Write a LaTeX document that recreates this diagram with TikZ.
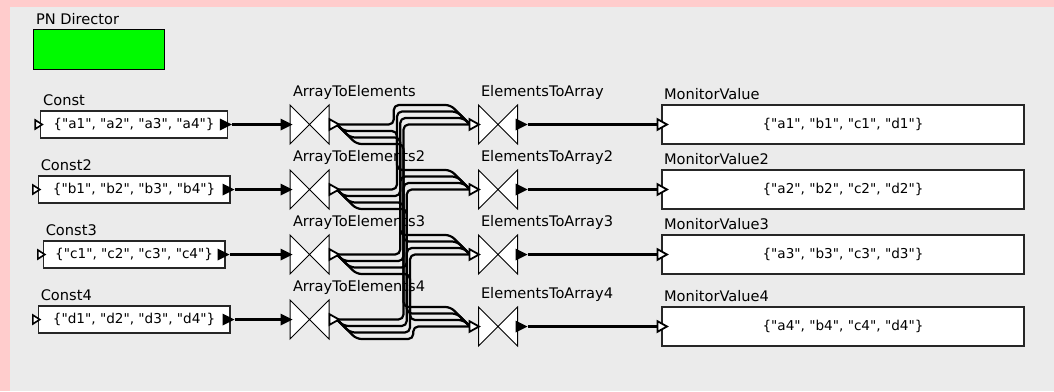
\documentclass[tikz,border=0pt]{standalone}
\usepackage{fontspec}
\setmainfont{DejaVu Sans}[Ligatures=TeXOff]
\usetikzlibrary{calc}

\definecolor{frame}{RGB}{255,204,204}
\definecolor{canvas}{RGB}{235,235,235}
\definecolor{director}{RGB}{0,250,0}

\tikzset{
  every node/.style={inner sep=0pt, outer sep=0pt},
  lbl/.style={anchor=base west, font=\fontsize{14.6}{17}\selectfont},
  valbox/.style={draw=black!85, line width=1.3pt, fill=white, minimum height=27pt,
    font=\fontsize{13.6}{16}\selectfont},
  monbox/.style={draw=black!85, line width=1.3pt, fill=white, minimum width=362pt,
    minimum height=39pt, font=\fontsize{13.6}{16}\selectfont},
  bowtie/.style={minimum width=39pt, minimum height=39pt},
  bowtieline/.style={fill=white, draw=black, line width=1pt},
  link/.style={line width=2.2pt},
  wire/.style={line width=2.2pt, rounded corners=5pt, line cap=round, line join=round},
  pics/openport/.style={code={
    \filldraw[fill=white, draw=black, line width=1.8pt] (0,-5.3) -- (9.5,0) -- (0,5.3) -- cycle;}},
  pics/solidport/.style={code={
    \fill[black] (0,-6) -- (12,0) -- (0,6) -- cycle;}},
  pics/trigport/.style={code={
    \filldraw[fill=white, draw=black, line width=1.6pt] (0,-4.5) -- (7,0) -- (0,4.5) -- cycle;}},
}

\begin{document}
\begin{tikzpicture}[x=1pt, y=-1pt]
  % frame and canvas
  \fill[frame] (0,0) rectangle (1054,391);
  \fill[canvas] (10,7) rectangle (1054,391);
  \useasboundingbox (0,0) rectangle (1054,391);

  % director
  \node[lbl] (dir-lbl) at (36,24) {PN Director};
  \node[draw=black, line width=1pt, fill=director, minimum width=131pt,
        minimum height=40pt, anchor=north west] (dir) at (33,29) {};

  % actors of each row
  \foreach \i/\l/\cl/\cr in {1/a/40.7/227.3, 2/b/38.3/230, 3/c/43.3/225, 4/d/38.3/230} {
    \pgfmathsetmacro\yr{59.5+65*\i}
    \pgfmathsetmacro\ye{\i==4 ? 326.5 : \yr}
    \ifnum\i=1 \def\sfx{}\else\edef\sfx{\i}\fi
    % constant sources
    \node[lbl] (C\i-lbl) at (\cl+2.5,\yr-19.5) {Const\sfx};
    \node[valbox, minimum width={\cr-\cl}] (C\i) at ({(\cl+\cr)/2},\yr)
      {\{"\l1", "\l2", "\l3", "\l4"\}};
    \coordinate (C\i-trig) at (\cl-5.5,\yr);
    \coordinate (C\i-out) at (\cr+4.5,\yr);
    % splitters
    \node[lbl] (A\i-lbl) at (293,\yr-28.5) {ArrayToElements\sfx};
    \node[bowtie] (A\i) at (309.5,\yr) {};
    \filldraw[bowtieline] (A\i.north west) -- (A\i.south west)
      -- (A\i.north east) -- (A\i.south east) -- cycle;
    \coordinate (A\i-in) at ([xshift=-9.5pt]A\i.west);
    \coordinate (A\i-out) at ([xshift=8pt]A\i.east);
    % mergers
    \node[lbl] (E\i-lbl) at (481,\ye-28.5) {ElementsToArray\sfx};
    \node[bowtie] (E\i) at (498,\ye) {};
    \filldraw[bowtieline] (E\i.north west) -- (E\i.south west)
      -- (E\i.north east) -- (E\i.south east) -- cycle;
    \coordinate (E\i-in) at ([xshift=-8.5pt]E\i.west);
    \coordinate (E\i-out) at ([xshift=10pt]E\i.east);
    % monitors
    \node[lbl] (M\i-lbl) at (664,\ye-25.5) {MonitorValue\sfx};
    \node[monbox] (M\i) at (843,\ye) {\{"a\i", "b\i", "c\i", "d\i"\}};
    \coordinate (M\i-in) at ([xshift=-4.5pt]M\i.west);
  }

  % straight links
  \foreach \i in {1,...,4} {
    \draw[link] (C\i-out) -- (A\i-in);
    \draw[link] (E\i-out) -- (M\i-in);
  }

  % transposing wires: channel j of splitter i goes to channel i of merger j
  \foreach \i in {1,...,4} {
    \foreach \j in {1,...,4} {
      \pgfmathsetmacro\ds{6.5*(\j-1)}
      \pgfmathsetmacro\de{6.5*(4-\i)}
      \coordinate (p) at ($(A\i-out)+(\ds,\ds)$);
      \coordinate (q) at ($(E\j-in)-(\de,\de)$);
      \coordinate (m) at ($(p)!0.5!(q)$);
      \ifnum\j=1 \def\wstart{(A\i-out)}\else\def\wstart{(A\i-out) -- (p)}\fi
      \ifnum\i=4 \def\wend{(E\j-in)}\else\def\wend{(q) -- (E\j-in)}\fi
      \draw[wire] \wstart -- (p -| m) -- (m |- q) -- \wend;
    }
  }

  % ports
  \foreach \i in {1,...,4} {
    \pic at (C\i-trig) {trigport};
    \pic at ([xshift=-12pt]C\i-out) {solidport};
    \pic at (A\i-in) {solidport};
    \pic at ([xshift=0.5pt]A\i.east) {openport};
    \pic at ([xshift=-0.5pt]E\i-in) {openport};
    \pic at ([xshift=-2pt]E\i.east) {solidport};
    \pic at (M\i-in) {openport};
  }
\end{tikzpicture}
\end{document}
